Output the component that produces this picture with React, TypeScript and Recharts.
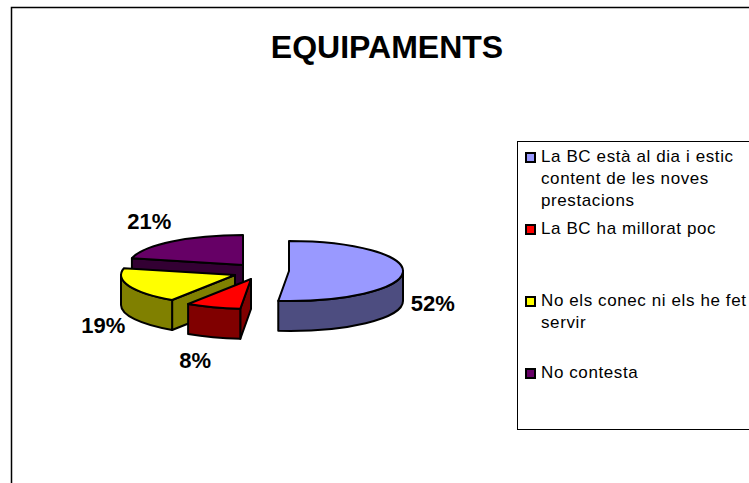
import React from "react";
import { PieChart, Pie, Legend } from "recharts";

const categories = [
  "La BC està al dia i estic content de les noves prestacions",
  "La BC ha millorat poc",
  "No els conec ni els he fet servir",
  "No contesta",
];
// unrounded shares, labels show them rounded
const percents = [51.5, 7.8, 19.3, 21.4];
const topColors = ["#9999FF", "#FF0000", "#FFFF00", "#660066"];
const sideColors = ["#4D4D80", "#800000", "#808000", "#330033"];
// how far each slice is pulled out of the pie, in px
const explodeX = [46, 8, -8, 0];
const explodeY = [0, 8, 4, -6];
const labelNudgeX = [0, -8, 2, -4];

const FONT = "'Liberation Sans', Arial, sans-serif";
const RADIUS_Y = 30;
const DEPTH = 30;

// reversed so the back slices paint first; the pie runs counter-clockwise from 12 o'clock
const pieData = categories
  .map((name, i) => ({
    name,
    value: percents[i],
    fill: topColors[i],
    side: sideColors[i],
    dx: explodeX[i],
    dy: explodeY[i],
    nudge: labelNudgeX[i],
  }))
  .reverse();

const rad = (deg: number) => (deg * Math.PI) / 180;

function Slice3D(props: any) {
  const { cx, cy, outerRadius, startAngle, endAngle, payload } = props;
  const ox = cx + payload.dx;
  const oy = cy + payload.dy;
  const from = 450 - endAngle;
  const to = 450 - startAngle;
  const px = (a: number) => ox + outerRadius * Math.sin(rad(a));
  const py = (a: number) => oy - RADIUS_Y * Math.cos(rad(a));
  const arcTo = (x: number, y: number, span: number, sweep: number) =>
    `A${outerRadius} ${RADIUS_Y} 0 ${span > 180 ? 1 : 0} ${sweep} ${x} ${y}`;

  const cutWall = (a: number) =>
    `M${ox} ${oy}L${px(a)} ${py(a)}L${px(a)} ${py(a) + DEPTH}L${ox} ${oy + DEPTH}Z`;

  const wallFrom = Math.max(from, 90);
  const wallTo = Math.min(to, 270);
  const span = wallTo - wallFrom;
  const style = { stroke: "#000", strokeWidth: 2, strokeLinejoin: "round" as const };

  return (
    <g>
      {Math.sin(rad(from)) < -0.01 && <path d={cutWall(from)} fill={payload.side} {...style} />}
      {Math.sin(rad(to)) > 0.01 && <path d={cutWall(to)} fill={payload.side} {...style} />}
      {span > 0 && (
        <path
          d={`M${px(wallFrom)} ${py(wallFrom)}${arcTo(px(wallTo), py(wallTo), span, 1)}L${px(wallTo)} ${py(wallTo) + DEPTH}${arcTo(px(wallFrom), py(wallFrom) + DEPTH, span, 0)}Z`}
          fill={payload.side}
          {...style}
        />
      )}
      <path d={`M${ox} ${oy}L${px(from)} ${py(from)}${arcTo(px(to), py(to), to - from, 1)}Z`} fill={payload.fill} {...style} />
    </g>
  );
}

function SliceLabel(props: any) {
  const { cx, cy, midAngle, payload, value } = props;
  const a = 90 - midAngle;
  const below = Math.cos(rad(a)) < 0;
  const x = cx + payload.dx + payload.nudge + 144 * Math.sin(rad(a));
  const y = cy + payload.dy - 55 * Math.cos(rad(a)) + (below ? DEPTH : 0);
  return (
    <text x={x} y={y} textAnchor="middle" dominantBaseline="central" fontFamily={FONT} fontWeight="bold" fontSize={22} fill="#000">
      {Math.round(value)}%
    </text>
  );
}

function LegendBox() {
  return (
    <div
      style={{
        boxSizing: "border-box",
        width: 250,
        height: 289,
        border: "1px solid #000",
        background: "#fff",
        paddingTop: 4,
        fontFamily: FONT,
        fontSize: 17,
        lineHeight: "22px",
        color: "#000",
        letterSpacing: 0.6,
      }}
    >
      {categories.map((name, i) => (
        <div key={name} style={{ height: 72, display: "flex", alignItems: "flex-start", paddingLeft: 7 }}>
          <span
            style={{
              boxSizing: "border-box",
              flex: "none",
              width: 11,
              height: 11,
              marginTop: 6,
              marginRight: 5,
              border: "2px solid #000",
              background: topColors[i],
            }}
          />
          <span style={{ width: 212 }}>{name}</span>
        </div>
      ))}
    </div>
  );
}

export default function App() {
  return (
    <div style={{ position: "absolute", left: 0, top: 0, width: 749, height: 483, overflow: "hidden", background: "#fff" }}>
      <PieChart width={749} height={483} margin={{ top: 0, right: 0, bottom: 0, left: 0 }}>
        <rect x={11.5} y={7.5} width={800} height={600} fill="#fff" stroke="#000" strokeWidth={1.5} />
        <text x={387} y={58} textAnchor="middle" fontFamily={FONT} fontWeight="bold" fontSize={32} fill="#000">
          EQUIPAMENTS
        </text>
        <Pie
          data={pieData}
          dataKey="value"
          nameKey="name"
          cx={243}
          cy={271}
          outerRadius={114}
          startAngle={90}
          endAngle={450}
          shape={(p: any) => <Slice3D {...p} />}
          label={(p: any) => <SliceLabel {...p} />}
          labelLine={false}
          isAnimationActive={false}
        />
        <Legend
          layout="vertical"
          align="right"
          verticalAlign="middle"
          content={() => <LegendBox />}
          wrapperStyle={{ position: "absolute", left: 517, top: 141, width: 250, height: 289, margin: 0 }}
        />
      </PieChart>
    </div>
  );
}
